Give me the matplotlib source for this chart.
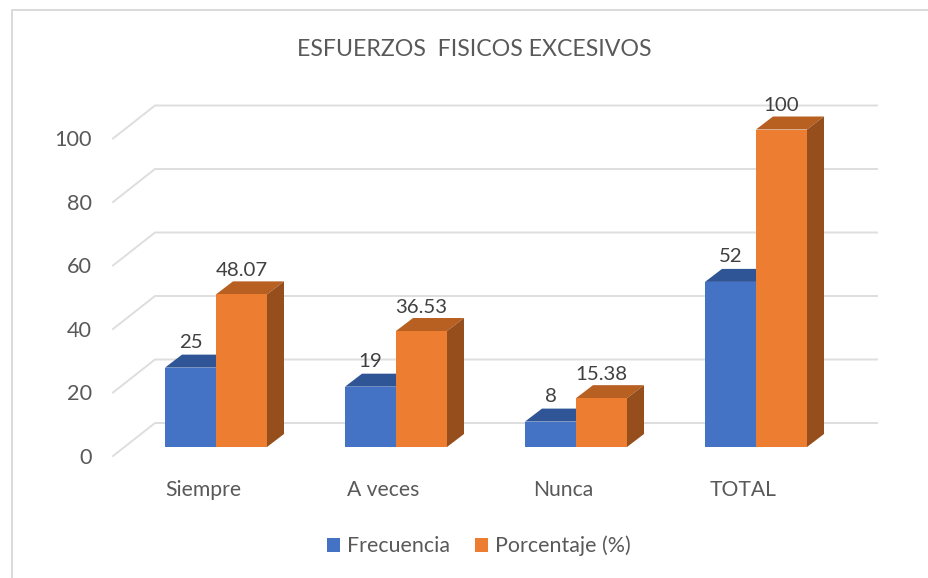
import matplotlib
matplotlib.use("Agg")
import matplotlib.pyplot as plt
from matplotlib.lines import Line2D
from matplotlib.patches import Polygon, Patch

categories = ["Siempre", "A veces", "Nunca", "TOTAL"]
frecuencia = [25, 19, 8, 52]
porcentaje = [48.07, 36.53, 15.38, 100]
freq_labels = ["25", "19", "8", "52"]
pct_labels = ["48.07", "36.53", "15.38", "100"]
yticks = [0, 20, 40, 60, 80, 100]
series_names = ["Frecuencia", "Porcentaje (%)"]
title = "ESFUERZOS  FISICOS EXCESIVOS"

W, H = 929, 578
plt.rcParams["font.family"] = ["Lato", "DejaVu Sans"]
fig = plt.figure(figsize=(W / 100, H / 100), dpi=100, facecolor="white")

L, R, T, B = 113, 877, 105, 456
ax = fig.add_axes([L / W, 1 - B / H, (R - L) / W, (B - T) / H])
ppu = 3.175
step = 180.0
ax.set_xlim((L - 216) / step, (R - 216) / step)
ax.set_ylim(0, (B - T) / ppu)
for s in ax.spines.values():
    s.set_visible(False)
ax.patch.set_alpha(0)

px = lambda p: p / step
py = lambda p: p / ppu

grid = "#DEDEDE"
x0 = ax.get_xlim()[0]
x1 = ax.get_xlim()[1]
for t in yticks:
    ax.plot([x0, x0 + px(42), x1], [t, t + py(33), t + py(33)],
            color=grid, lw=1.4, zorder=1, solid_joinstyle="miter", clip_on=False)

bw = px(51)
base = py(9)
ddx, ddy = px(17), py(13)
BLUE, ORANGE = "#4472C4", "#ED7D31"
faces = {BLUE: ("#2F5597", "#2A4E8C"), ORANGE: ("#B85F22", "#964F1C")}
xs = list(range(len(categories)))


def draw(values, side, color):
    top_c, side_c = faces[color]
    for x, v in zip(xs, values):
        left = x - bw if side == 0 else x
        right = left + bw
        top = v + base
        ax.add_patch(Polygon([(left, top), (left + ddx, top + ddy), (right + ddx, top + ddy), (right, top)],
                             closed=True, fc=top_c, ec="none", zorder=2 + side))
        ax.add_patch(Polygon([(right, base), (right + ddx, base + ddy), (right + ddx, top + ddy), (right, top)],
                             closed=True, fc=side_c, ec="none", zorder=2 + side))
    lefts = [x - bw if side == 0 else x for x in xs]
    ax.bar(lefts, values, width=bw, bottom=base, align="edge", color=color, zorder=3 + side)


draw(frecuencia, 0, BLUE)
draw(porcentaje, 1, ORANGE)

txt = "#404040"
for x, v, s in zip(xs, frecuencia, freq_labels):
    ax.text(x - bw / 2, v + base + py(25), s, ha="center", va="center", fontsize=14.7, color=txt, zorder=6)
for x, v, s in zip(xs, porcentaje, pct_labels):
    ax.text(x + bw / 2, v + base + py(24), s, ha="center", va="center", fontsize=14.7, color=txt, zorder=6)

ax.set_yticks(yticks)
ax.set_yticklabels([str(t) for t in yticks], fontsize=15.6, color="#595959")
ax.tick_params(axis="y", length=0, pad=15)
ax.set_xticks([x - px(13) for x in xs])
ax.set_xticklabels(categories, fontsize=15.2, color="#595959")
ax.tick_params(axis="x", length=0, pad=17.5)

fig.text(474 / W, 1 - 49 / H, title, ha="center", va="center", fontsize=16.7, color="#595959")

handles = [Patch(fc=BLUE, ec="none"), Patch(fc=ORANGE, ec="none")]
fig.legend(handles, series_names, loc="center", bbox_to_anchor=(479 / W, 1 - 546 / H), ncol=2, frameon=False,
           fontsize=15.4, labelcolor="#595959", handlelength=0.6, handleheight=0.6, handletextpad=0.35,
           columnspacing=1.15)

border = "#D9D9D9"
fig.add_artist(Line2D([12 / W, 12 / W, 1], [0, 1 - 10 / H, 1 - 10 / H], color=border, lw=1.4, transform=fig.transFigure))

fig.savefig("out.png", dpi=100, facecolor="white")
